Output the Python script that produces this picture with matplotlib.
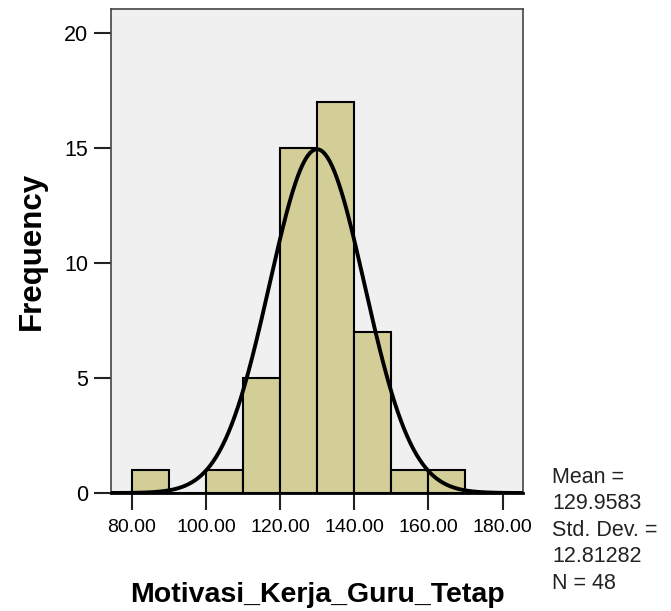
import numpy as np
import matplotlib
matplotlib.use("Agg")
import matplotlib.pyplot as plt

# histogram data (bin width 10)
bin_left = [80, 90, 100, 110, 120, 130, 140, 150, 160]
counts = [1, 0, 1, 5, 15, 17, 7, 1, 1]
bin_width = 10

mean = 129.9583
std = 12.81282
n = 48

x_ticks = [80, 100, 120, 140, 160, 180]
y_ticks = [0, 5, 10, 15, 20]

plt.rcParams['font.family'] = ['Liberation Sans', 'DejaVu Sans']

fig = plt.figure(figsize=(6.71, 6.11), dpi=100)
ax = fig.add_axes([0.1654, 0.1931, 0.614, 0.7921])
ax.set_facecolor("#F0F0F0")

ax.bar(bin_left, counts, width=bin_width, align='edge',
       color="#D3CE98", edgecolor="black", linewidth=1.5, zorder=2)

# normal curve scaled to counts
xs = np.linspace(74.4, 185.5, 400)
ys = n * bin_width / (std * np.sqrt(2 * np.pi)) * np.exp(-0.5 * ((xs - mean) / std) ** 2)
ax.plot(xs, ys, color="black", linewidth=2.8, zorder=3)

ax.set_xlim(74.4, 185.5)
ax.set_ylim(0, 21.04)
ax.set_xticks(x_ticks)
ax.set_xticklabels([f"{v:.2f}" for v in x_ticks], fontsize=14)
ax.set_yticks(y_ticks)
ax.set_yticklabels([str(v) for v in y_ticks], fontsize=15.5)
ax.tick_params(axis='both', length=12.5, width=1.5, color="#222222", pad=4)
ax.tick_params(axis='x', pad=6)

for side in ['left', 'right', 'top']:
    ax.spines[side].set_color("#444444")
    ax.spines[side].set_linewidth(1.2)
ax.spines['bottom'].set_linewidth(2)
ax.spines['bottom'].set_color("black")

ax.set_ylabel("Frequency", fontsize=22.5, fontweight='bold', labelpad=12)
ax.set_xlabel("Motivasi_Kerja_Guru_Tetap", fontsize=20.5, fontweight='bold', labelpad=33)

stats = "Mean =\n129.9583\nStd. Dev. =\n12.81282\nN = 48"
fig.text(552 / 671, 1 - 467 / 611, stats, fontsize=15.5, va='top', ha='left',
         linespacing=1.34, color="#222222")

fig.savefig("out.png", dpi=100)
